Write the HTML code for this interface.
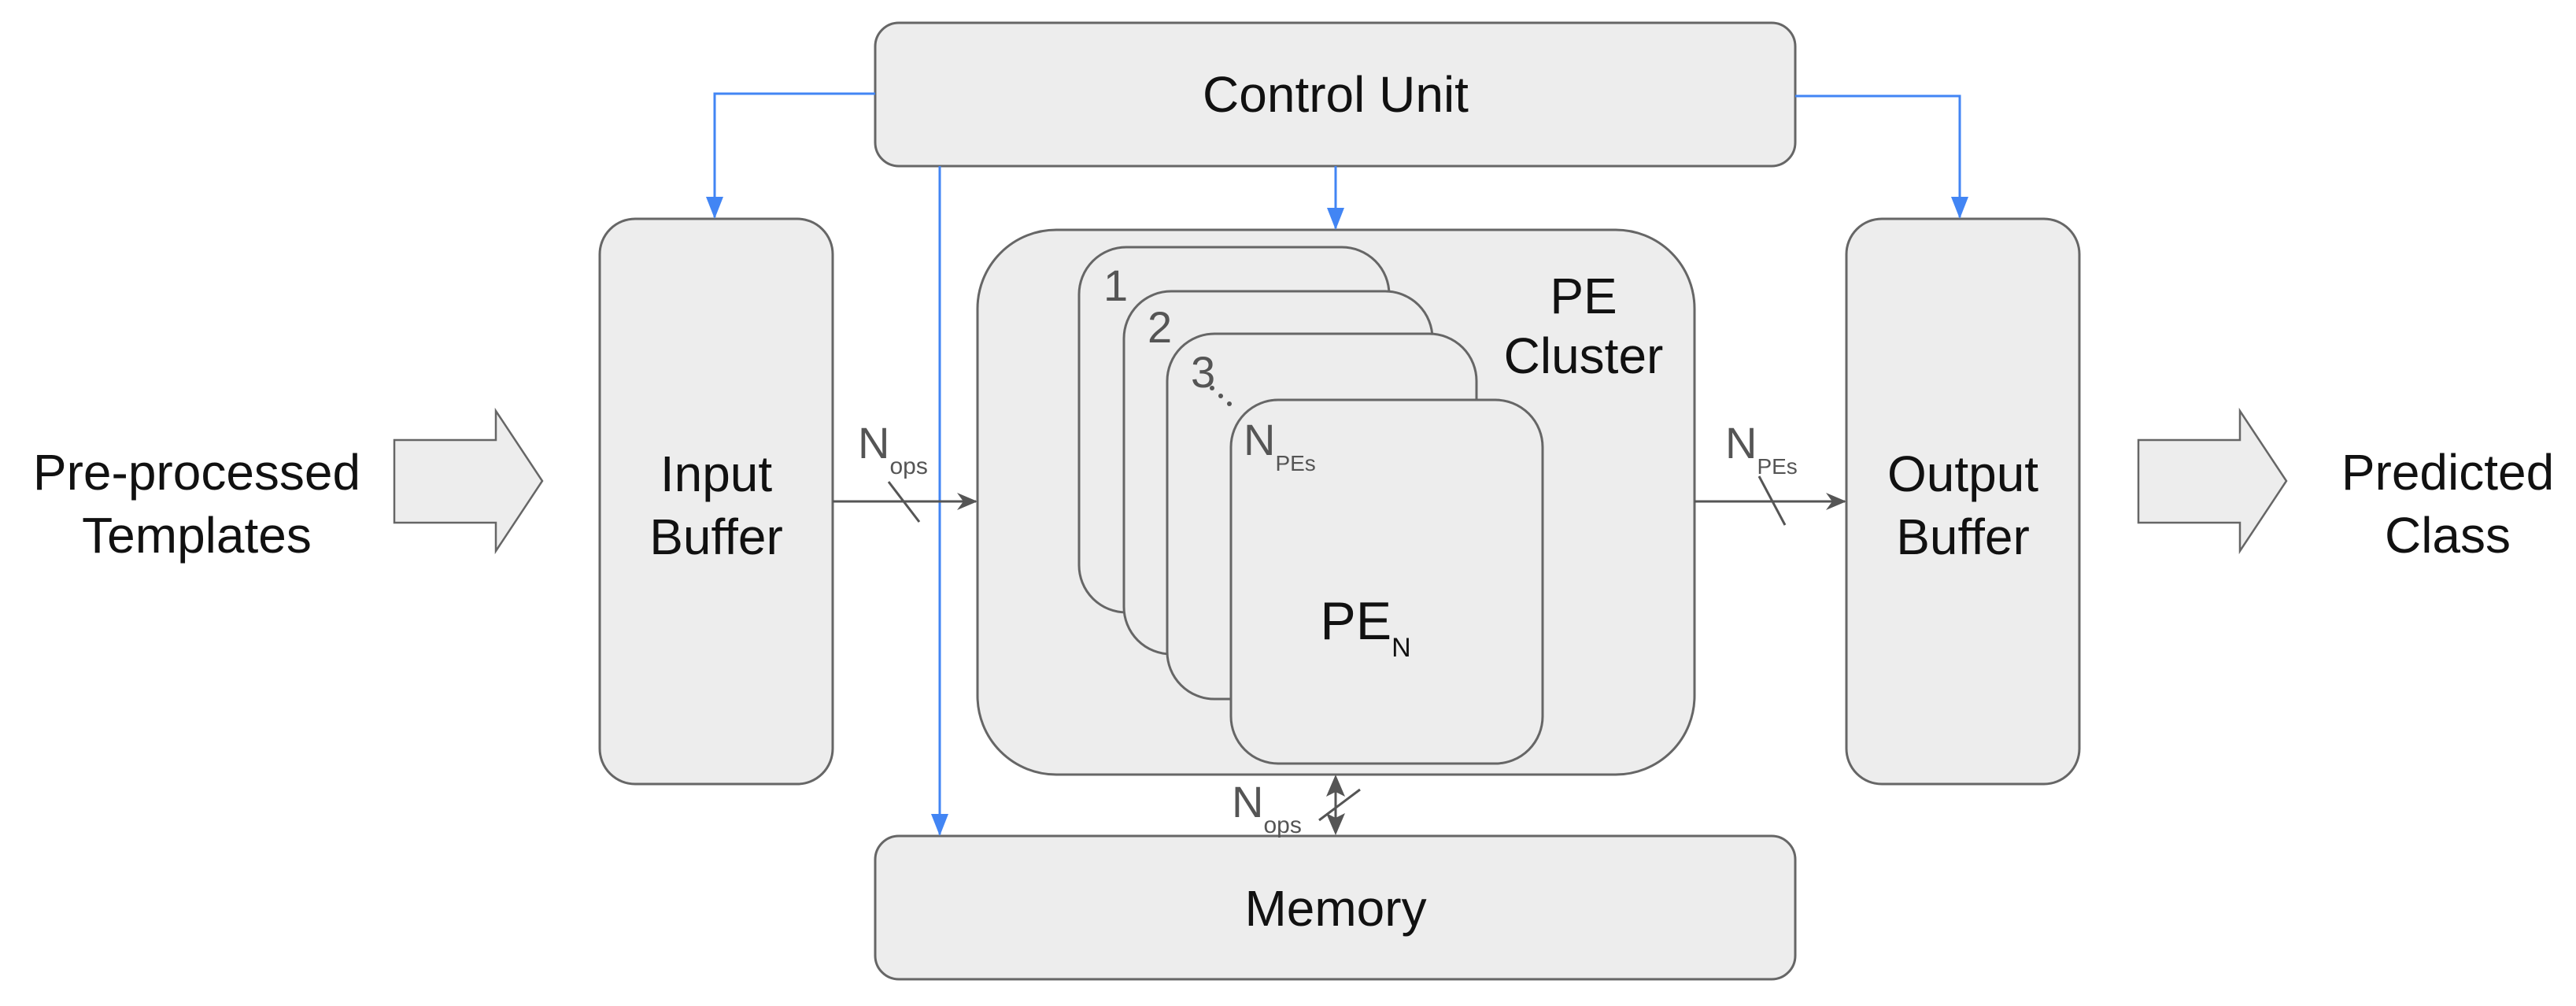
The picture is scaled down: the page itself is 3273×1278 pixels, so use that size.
<!DOCTYPE html>
<html><head><meta charset="utf-8"><style>html,body{margin:0;padding:0;background:#fff}svg{display:block}</style></head><body>
<svg width="3273" height="1278" viewBox="0 0 3273 1278" xmlns="http://www.w3.org/2000/svg" font-family="Liberation Sans, sans-serif">
<defs>
<marker id="gr" markerWidth="26" markerHeight="26" refX="24" refY="13" orient="auto" markerUnits="userSpaceOnUse" viewBox="0 0 26 26"><path d="M0,2 L26,13 L0,24 L8,13 Z" fill="#555"/></marker>
</defs>
<g stroke="#666" stroke-width="3" fill="#ededed">
<rect x="1112" y="29" width="1169" height="182" rx="30"/>
<rect x="1112" y="1062" width="1169" height="182" rx="30"/>
<rect x="762" y="278" width="296" height="718" rx="45"/>
<rect x="2346" y="278" width="296" height="718" rx="45"/>
<rect x="1242" y="292" width="911" height="692" rx="100"/>
<rect x="1371" y="314" width="394" height="464" rx="60"/>
<rect x="1428" y="370" width="392" height="461" rx="60"/>
<rect x="1483" y="424" width="393" height="464" rx="60"/>
<rect x="1564" y="508" width="396" height="462" rx="60"/>
<path d="M501,559 H630 V522 L689,611 L630,700 V664 H501 Z" stroke-width="2.5"/>
<path d="M2717,559 H2846 V522 L2905,611 L2846,700 V664 H2717 Z" stroke-width="2.5"/>
</g>
<g stroke="#4285f4" stroke-width="3" fill="none">
<path d="M1112,119 H908 V276"/>
<path d="M2281,122 H2490 V276"/>
<path d="M1697,211 V290"/>
<path d="M1194,211 V1060"/>
</g>
<g fill="#4285f4">
<path d="M897,250 L919,250 L908,278 Z"/>
<path d="M2479,250 L2501,250 L2490,278 Z"/>
<path d="M1686,264 L1708,264 L1697,292 Z"/>
<path d="M1183,1034 L1205,1034 L1194,1062 Z"/>
</g>
<g stroke="#555" stroke-width="3" fill="none">
<path d="M1058,637 H1240" marker-end="url(#gr)"/>
<path d="M2153,637 H2344" marker-end="url(#gr)"/>
<line x1="1129" y1="612" x2="1168" y2="663"/>
<line x1="2235" y1="605" x2="2268" y2="667"/>
<line x1="1697" y1="1000" x2="1697" y2="1045"/>
<line x1="1676" y1="1042" x2="1728" y2="1003"/>
</g>
<g fill="#555">
<path d="M1697,984 L1709,1012 L1697,1006 L1685,1012 Z"/>
<path d="M1697,1061 L1709,1033 L1697,1039 L1685,1033 Z"/>
<circle cx="1540" cy="493" r="3"/><circle cx="1551" cy="503" r="3"/><circle cx="1562" cy="513" r="3"/>
</g>
<g fill="#111" font-size="64" text-anchor="middle">
<text x="1697" y="142">Control Unit</text>
<text x="1697" y="1176">Memory</text>
<text x="910" y="624">Input</text>
<text x="910" y="704">Buffer</text>
<text x="2494" y="624">Output</text>
<text x="2494" y="704">Buffer</text>
<text x="250" y="622">Pre-processed</text>
<text x="250" y="702">Templates</text>
<text x="3110" y="622">Predicted</text>
<text x="3110" y="702">Class</text>
<text x="2012" y="398">PE</text>
<text x="2012" y="474">Cluster</text>
<text x="1735" y="812" font-size="68">PE<tspan font-size="34" dy="22">N</tspan></text>
</g>
<g fill="#555" font-size="56">
<text x="1402" y="382">1</text>
<text x="1458" y="435">2</text>
<text x="1513" y="492">3</text>
<text x="1580" y="578">N<tspan font-size="28" dy="20">PEs</tspan></text>
<text x="1090" y="582">N<tspan font-size="30" dy="20">ops</tspan></text>
<text x="2192" y="582">N<tspan font-size="28" dy="20">PEs</tspan></text>
<text x="1565" y="1038">N<tspan font-size="30" dy="20">ops</tspan></text>
</g>
</svg>
</body></html>
